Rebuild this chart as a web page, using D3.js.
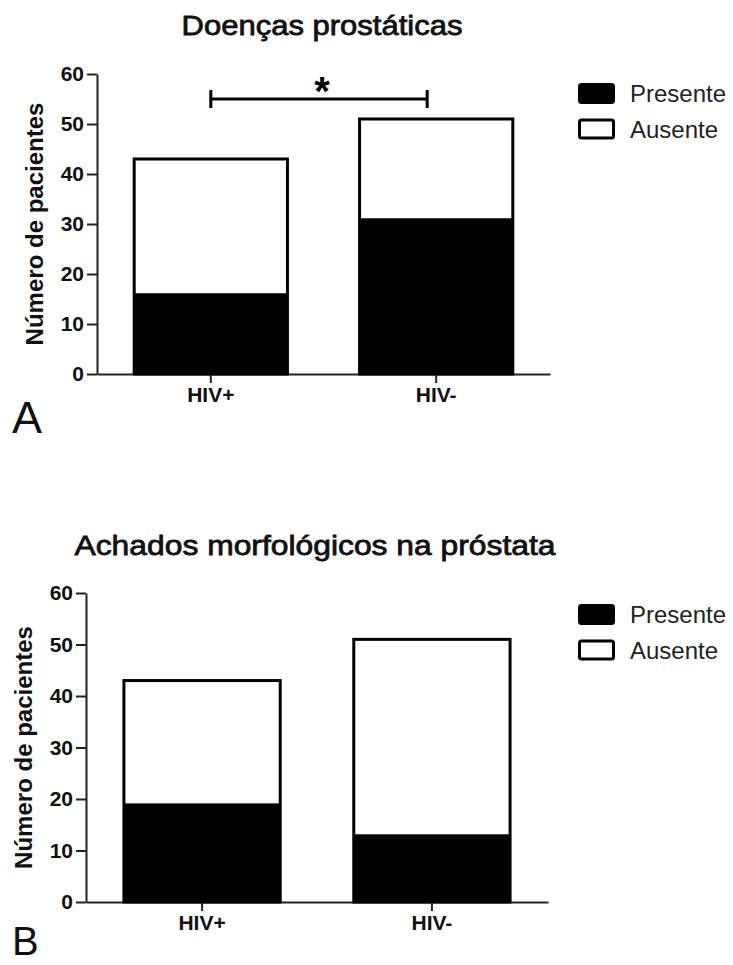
<!DOCTYPE html>
<html>
<head>
<meta charset="utf-8">
<script src="https://cdn.jsdelivr.net/npm/d3@7"></script>
<style>
  body { margin: 0; background: #fff; }
  svg { display: block; font-family: "Liberation Sans", Arial, sans-serif; }
  .axis path, .axis line { stroke: #222; stroke-width: 2; }
  .axis text { font-size: 21px; font-weight: bold; fill: #111; }
</style>
</head>
<body>
<div class="chart"></div>
<script>
var categories = ['HIV+', 'HIV-'];
var seriesNames = ['Presente', 'Ausente'];
var yTicks = [0, 10, 20, 30, 40, 50, 60];

// painel A - doencas prostaticas
var doencasPresente = [16, 31];
var doencasAusente = [27, 20];
var doencasSignif = { from: 'HIV+', to: 'HIV-', y: 55, label: '*' };

// painel B - achados morfologicos
var achadosPresente = [19, 13];
var achadosAusente = [24, 38];

var width = 733,
    height = 965;

var svg = d3.select('.chart')
  .append('svg')
    .attr('width', width)
    .attr('height', height);

function drawPanel(cfg) {
  var g = svg.append('g');

  var x = d3.scaleBand()
      .domain(categories)
      .range([cfg.left, cfg.right])
      .paddingInner(0.32)
      .paddingOuter(0.165);

  var y = d3.scaleLinear()
      .domain([0, 60])
      .range([cfg.bottom, cfg.top]);

  var rows = categories.map(function(c, i) {
    return { cat: c, Presente: cfg.presente[i], Ausente: cfg.ausente[i] };
  });
  var stacked = d3.stack().keys(seriesNames)(rows);

  // title
  g.append('text')
      .attr('x', cfg.titleX)
      .attr('y', cfg.titleY)
      .attr('text-anchor', 'middle')
      .attr('textLength', cfg.titleW)
      .attr('lengthAdjust', 'spacingAndGlyphs')
      .style('font-size', '28px')
      .style('fill', '#111')
      .style('stroke', '#111')
      .style('stroke-width', 0.8)
      .text(cfg.title);

  // axes
  g.append('g')
      .attr('class', 'axis')
      .attr('transform', 'translate(' + cfg.left + ',0)')
      .call(d3.axisLeft(y).tickValues(yTicks).tickSize(10).tickPadding(3).tickSizeOuter(0));

  g.append('g')
      .attr('class', 'axis')
      .attr('transform', 'translate(0,' + cfg.bottom + ')')
      .call(d3.axisBottom(x).tickSize(9).tickPadding(4).tickSizeOuter(0));

  g.append('text')
      .attr('transform', 'translate(' + cfg.labelX + ',' + ((cfg.top + cfg.bottom) / 2) + ') rotate(-90)')
      .attr('text-anchor', 'middle')
      .style('font-size', '24px')
      .style('font-weight', 'bold')
      .style('fill', '#111')
      .text('Número de pacientes');

  // outline bar (total) then presente on top
  g.selectAll('rect.total')
      .data(stacked[1])
    .enter().append('rect')
      .attr('class', 'total')
      .attr('x', function(d) { return x(d.data.cat); })
      .attr('y', function(d) { return y(d[1]); })
      .attr('width', x.bandwidth())
      .attr('height', function(d) { return y(0) - y(d[1]); })
      .attr('fill', '#fff')
      .attr('stroke', '#000')
      .attr('stroke-width', 3);

  g.selectAll('rect.pres')
      .data(stacked[0])
    .enter().append('rect')
      .attr('class', 'pres')
      .attr('x', function(d) { return x(d.data.cat); })
      .attr('y', function(d) { return y(d[1]); })
      .attr('width', x.bandwidth())
      .attr('height', function(d) { return y(d[0]) - y(d[1]); })
      .attr('fill', '#000')
      .attr('stroke', '#000')
      .attr('stroke-width', 1.5);

  // significance bracket
  if (cfg.signif) {
    var s = cfg.signif,
        x1 = x(s.from) + x.bandwidth() / 2,
        x2 = x(s.to) + x.bandwidth() / 2 - 9,
        sy = y(s.y);
    g.append('path')
        .attr('d', 'M' + x1 + ',' + (sy - 9) + 'V' + (sy + 9) + 'M' + x1 + ',' + sy + 'H' + x2 +
                   'M' + x2 + ',' + (sy - 9) + 'V' + (sy + 9))
        .attr('fill', 'none')
        .attr('stroke', '#000')
        .attr('stroke-width', 3);
    g.append('text')
        .attr('x', (x1 + x2) / 2 + 3)
        .attr('y', sy + 6)
        .attr('text-anchor', 'middle')
        .style('font-size', '40px')
        .style('font-weight', 'bold')
        .text(s.label);
  }

  // legend
  var leg = g.selectAll('g.leg')
      .data(seriesNames)
    .enter().append('g')
      .attr('class', 'leg')
      .attr('transform', function(d, i) { return 'translate(' + cfg.legX + ',' + (cfg.legY + i * 35.5) + ')'; });

  leg.append('rect')
      .attr('x', 1.5)
      .attr('y', 1.5)
      .attr('width', 34)
      .attr('height', 18)
      .attr('rx', 2)
      .attr('fill', function(d) { return d === 'Presente' ? '#000' : '#fff'; })
      .attr('stroke', '#000')
      .attr('stroke-width', 3);

  leg.append('text')
      .attr('x', 52)
      .attr('y', 19)
      .style('font-size', '24px')
      .style('fill', '#222')
      .text(function(d) { return d; });

  // panel letter
  g.append('text')
      .attr('x', 12)
      .attr('y', cfg.letterY)
      .style('font-size', cfg.letterSize + 'px')
      .style('fill', '#111')
      .text(cfg.letter);
}

drawPanel({
  title: 'Doenças prostáticas', titleX: 322, titleY: 35, titleW: 281,
  left: 97, right: 550, top: 74, bottom: 374, labelX: 43,
  presente: doencasPresente, ausente: doencasAusente,
  signif: doencasSignif,
  legX: 578, legY: 83,
  letter: 'A', letterY: 433, letterSize: 45
});

drawPanel({
  title: 'Achados morfológicos na próstata', titleX: 315, titleY: 555, titleW: 481,
  left: 86, right: 548, top: 593, bottom: 902, labelX: 32,
  presente: achadosPresente, ausente: achadosAusente,
  signif: null,
  legX: 578, legY: 604,
  letter: 'B', letterY: 955, letterSize: 40
});
</script>
</body>
</html>
